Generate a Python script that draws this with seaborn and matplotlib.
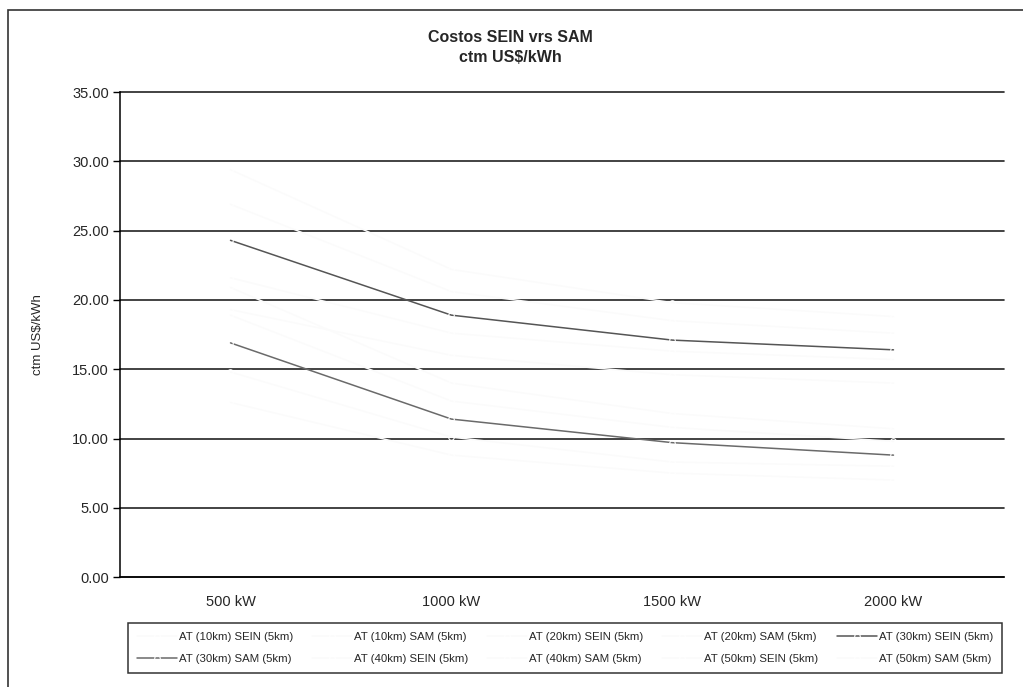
import numpy as np
import pandas as pd
import matplotlib
matplotlib.use("Agg")
import matplotlib.pyplot as plt
from matplotlib.patches import Rectangle
import seaborn as sns

# Installed capacity categories
potencias = ["500 kW", "1000 kW", "1500 kW", "2000 kW"]

# Cost per series, ctm US$/kWh
at10_sein = [19.3, 16.0, 14.6, 14.0]
at10_sam = [12.6, 8.8, 7.5, 7.0]
at20_sein = [21.6, 17.6, 16.3, 15.7]
at20_sam = [14.8, 10.1, 8.3, 8.0]
at30_sein = [24.3, 18.9, 17.1, 16.4]
at30_sam = [16.9, 11.4, 9.7, 8.8]
at40_sein = [26.9, 20.6, 18.5, 17.6]
at40_sam = [18.9, 12.7, 10.8, 9.8]
at50_sein = [29.4, 22.2, 19.8, 18.8]
at50_sam = [20.9, 14.0, 11.8, 10.7]

series = {
    "AT (10km) SEIN (5km)": at10_sein,
    "AT (10km) SAM (5km)": at10_sam,
    "AT (20km) SEIN (5km)": at20_sein,
    "AT (20km) SAM (5km)": at20_sam,
    "AT (30km) SEIN (5km)": at30_sein,
    "AT (30km) SAM (5km)": at30_sam,
    "AT (40km) SEIN (5km)": at40_sein,
    "AT (40km) SAM (5km)": at40_sam,
    "AT (50km) SEIN (5km)": at50_sein,
    "AT (50km) SAM (5km)": at50_sam,
}
nombres = list(series.keys())

df = pd.DataFrame(
    [(n, i, v) for n, vals in series.items() for i, v in enumerate(vals)],
    columns=["serie", "pos", "costo"],
)

# Only the 30 km series print dark; the rest come out almost white
faint = "#fbfbfb"
palette = {n: faint for n in nombres}
palette["AT (30km) SEIN (5km)"] = "#555555"
palette["AT (30km) SAM (5km)"] = "#6a6a6a"

sns.set_style("white")
plt.rcParams["font.family"] = ["Liberation Sans", "DejaVu Sans"]

fig = plt.figure(figsize=(10.23, 6.87), dpi=100)
ax = fig.add_axes([0.1173, 0.160, 0.8641, 0.706])

sns.lineplot(
    data=df, x="pos", y="costo", hue="serie", hue_order=nombres,
    palette=palette, linewidth=1.1, marker="o", markersize=4,
    markerfacecolor="none", markeredgewidth=0.8, ax=ax, legend=True,
)

ax.set_xlim(-0.5, 3.5)
ax.set_ylim(0, 35)
ax.set_yticks(np.arange(0, 35.01, 5))
ax.set_yticklabels([f"{v:.2f}" for v in np.arange(0, 35.01, 5)], fontsize=10.5)
ax.set_xticks(range(len(potencias)))
ax.set_xticklabels(potencias, fontsize=10.5)
ax.tick_params(axis="x", length=0, pad=13)
ax.tick_params(axis="y", length=5, width=1, color="black", pad=3, left=True)
ax.grid(axis="y", color="#222222", linewidth=1.2)
ax.grid(axis="x", visible=False)
for gl in ax.get_ygridlines():
    gl.set_clip_on(False)
ax.set_xlabel("")
ax.set_ylabel("ctm US$/kWh", fontsize=9.5, labelpad=20)
for side in ["top", "right"]:
    ax.spines[side].set_visible(False)
for side in ["left", "bottom"]:
    ax.spines[side].set_color("black")
    ax.spines[side].set_linewidth(1.1)

# Legend: 5 columns, filled row by row, stretched across the box
handles, labels = ax.get_legend_handles_labels()
order = [0, 5, 1, 6, 2, 7, 3, 8, 4, 9]
leg_x0, leg_x1 = 128 / 1023, 1002 / 1023
leg_y1, leg_y0 = 1 - 623 / 687, 1 - 674 / 687
leg = ax.legend(
    [handles[i] for i in order], [labels[i] for i in order],
    ncol=5, loc="upper left", mode="expand",
    bbox_to_anchor=(leg_x0, leg_y0, leg_x1 - leg_x0, leg_y1 - leg_y0),
    bbox_transform=fig.transFigure, fontsize=8.2, frameon=True,
    fancybox=False, edgecolor="black", handlelength=3.5, handletextpad=0.15,
    columnspacing=1.2, borderpad=0.8, labelspacing=1.0, borderaxespad=0,
)
leg.get_frame().set_linewidth(1.1)

# Title
fig.text(0.499, 1 - 38 / 687, "Costos SEIN vrs SAM", ha="center", va="center",
         fontsize=11.5, fontweight="bold")
fig.text(0.499, 1 - 58 / 687, "ctm US$/kWh", ha="center", va="center",
         fontsize=11.5, fontweight="bold")

# Chart area frame
fig.patches.append(Rectangle((8 / 1023, -0.05), 1.2, 1 - 10 / 687 + 0.05,
                             transform=fig.transFigure, fill=False,
                             edgecolor="#333333", linewidth=1.2))

fig.savefig("out.png", dpi=100)
